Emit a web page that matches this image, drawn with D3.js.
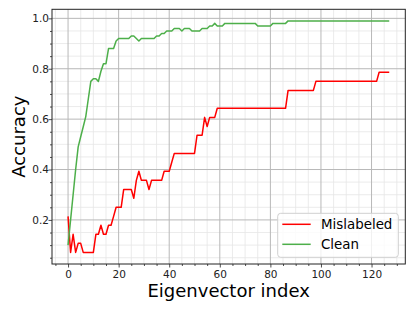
<!DOCTYPE html>
<html>
<head>
<meta charset="utf-8">
<script src="https://cdn.jsdelivr.net/npm/d3@7"></script>
<style>
    html, body { margin: 0; padding: 0; background: #fff; }
    svg { display: block; font-family: "DejaVu Sans", sans-serif; }
</style>
</head>
<body>
<svg id="chart"></svg>
<script>
// accuracy per eigenvector index
const mislabeled = [
    0.214, 0.071, 0.143, 0.071, 0.107, 0.107, 0.071, 0.071, 0.071, 0.071,
    0.071, 0.143, 0.143, 0.179, 0.143, 0.143, 0.179, 0.179, 0.214, 0.25,
    0.25, 0.25, 0.321, 0.321, 0.321, 0.321, 0.286, 0.357, 0.393, 0.357,
    0.357, 0.357, 0.321, 0.357, 0.357, 0.357, 0.357, 0.357, 0.393, 0.393,
    0.393, 0.429, 0.464, 0.464, 0.464, 0.464, 0.464, 0.464, 0.464, 0.464,
    0.464, 0.536, 0.536, 0.536, 0.607, 0.571, 0.607, 0.607, 0.607, 0.643,
    0.643, 0.643, 0.643, 0.643, 0.643, 0.643, 0.643, 0.643, 0.643, 0.643,
    0.643, 0.643, 0.643, 0.643, 0.643, 0.643, 0.643, 0.643, 0.643, 0.643,
    0.643, 0.643, 0.643, 0.643, 0.643, 0.643, 0.643, 0.714, 0.714, 0.714,
    0.714, 0.714, 0.714, 0.714, 0.714, 0.714, 0.714, 0.714, 0.75, 0.75,
    0.75, 0.75, 0.75, 0.75, 0.75, 0.75, 0.75, 0.75, 0.75, 0.75,
    0.75, 0.75, 0.75, 0.75, 0.75, 0.75, 0.75, 0.75, 0.75, 0.75,
    0.75, 0.75, 0.75, 0.786, 0.786, 0.786, 0.786, 0.786
];

const clean = [
    0.10, 0.20, 0.30, 0.40, 0.49, 0.53, 0.57, 0.61, 0.68, 0.75,
    0.76, 0.76, 0.75, 0.79, 0.82, 0.82, 0.88, 0.88, 0.88, 0.91,
    0.92, 0.92, 0.92, 0.92, 0.92, 0.93, 0.93, 0.92, 0.91, 0.92,
    0.92, 0.92, 0.92, 0.92, 0.92, 0.93, 0.93, 0.94, 0.94, 0.95,
    0.95, 0.95, 0.96, 0.96, 0.96, 0.95, 0.96, 0.96, 0.96, 0.95,
    0.95, 0.95, 0.95, 0.96, 0.96, 0.96, 0.97, 0.97, 0.98, 0.97,
    0.97, 0.97, 0.98, 0.98, 0.98, 0.98, 0.98, 0.98, 0.98, 0.98,
    0.98, 0.98, 0.98, 0.98, 0.98, 0.97, 0.97, 0.97, 0.97, 0.97,
    0.97, 0.98, 0.98, 0.98, 0.98, 0.98, 0.98, 0.99, 0.99, 0.99,
    0.99, 0.99, 0.99, 0.99, 0.99, 0.99, 0.99, 0.99, 0.99, 0.99,
    0.99, 0.99, 0.99, 0.99, 0.99, 0.99, 0.99, 0.99, 0.99, 0.99,
    0.99, 0.99, 0.99, 0.99, 0.99, 0.99, 0.99, 0.99, 0.99, 0.99,
    0.99, 0.99, 0.99, 0.99, 0.99, 0.99, 0.99, 0.99
];

const xTicks = [0, 20, 40, 60, 80, 100, 120];
const yTicks = [0.2, 0.4, 0.6, 0.8, 1.0];
const seriesNames = ["Mislabeled", "Clean"];
const seriesColors = ["#ff0000", "#4daf4a"];

const width = 415;
const height = 311;
const margin = { top: 9.3, right: 9.7, bottom: 47, left: 52 };
const innerW = width - margin.left - margin.right;
const innerH = height - margin.top - margin.bottom;

const series = [mislabeled, clean];
const n = mislabeled.length;

// matplotlib style 5% padding
const xPad = (n - 1) * 0.05;
const allVals = series.flat();
const yMin = d3.min(allVals), yMax = d3.max(allVals);
const yPad = (yMax - yMin) * 0.05;

const x = d3.scaleLinear()
    .domain([-xPad, n - 1 + xPad])
    .range([0, innerW]);

const y = d3.scaleLinear()
    .domain([yMin - yPad, yMax + yPad])
    .range([innerH, 0]);

const xMinor = d3.range(-5, 135, 5).filter(v => v % 20 !== 0);
const yMinor = d3.range(1, 21).map(v => v * 0.05).filter(v => Math.abs(v * 5 - Math.round(v * 5)) > 1e-6);

const svg = d3.select("#chart")
    .attr("width", width)
    .attr("height", height);

const g = svg.append("g")
    .attr("transform", `translate(${margin.left},${margin.top})`);

// minor grid
g.append("g")
    .selectAll("line.vx")
    .data(xMinor)
    .join("line")
    .attr("x1", d => x(d)).attr("x2", d => x(d))
    .attr("y1", 0).attr("y2", innerH)
    .attr("stroke", "#e6e6e6").attr("stroke-width", 0.8);

g.append("g")
    .selectAll("line.hy")
    .data(yMinor)
    .join("line")
    .attr("x1", 0).attr("x2", innerW)
    .attr("y1", d => y(d)).attr("y2", d => y(d))
    .attr("stroke", "#e6e6e6").attr("stroke-width", 0.8);

// major grid
g.append("g")
    .selectAll("line")
    .data(xTicks)
    .join("line")
    .attr("x1", d => x(d)).attr("x2", d => x(d))
    .attr("y1", 0).attr("y2", innerH)
    .attr("stroke", "#b8b8b8").attr("stroke-width", 1);

g.append("g")
    .selectAll("line")
    .data(yTicks)
    .join("line")
    .attr("x1", 0).attr("x2", innerW)
    .attr("y1", d => y(d)).attr("y2", d => y(d))
    .attr("stroke", "#b8b8b8").attr("stroke-width", 1);

// lines
const line = d3.line()
    .x((d, i) => x(i))
    .y(d => y(d));

g.append("g")
    .selectAll("path")
    .data(series)
    .join("path")
    .attr("fill", "none")
    .attr("stroke", (d, i) => seriesColors[i])
    .attr("stroke-width", 1.5)
    .attr("stroke-linejoin", "round")
    .attr("d", line);

// axes
const xAxis = g.append("g")
    .attr("transform", `translate(0,${innerH})`)
    .call(d3.axisBottom(x).tickValues(xTicks).tickSize(3.5).tickPadding(3).tickFormat(d3.format("d")));

g.append("g")
    .attr("transform", `translate(0,${innerH})`)
    .call(d3.axisBottom(x).tickValues(xMinor).tickSize(2).tickFormat(""))
    .select(".domain").remove();

const yAxis = g.append("g")
    .call(d3.axisLeft(y).tickValues(yTicks).tickSize(3.5).tickPadding(-0.5).tickFormat(d3.format(".1f")));

g.append("g")
    .call(d3.axisLeft(y).tickValues(yMinor).tickSize(2).tickFormat(""))
    .select(".domain").remove();

svg.selectAll(".tick text")
    .attr("font-family", "DejaVu Sans")
    .attr("font-size", 10.5)
    .attr("fill", "#222");

svg.selectAll(".tick line").attr("stroke", "#222").attr("stroke-width", 0.8);
xAxis.select(".domain").remove();
yAxis.select(".domain").remove();

// frame
g.append("rect")
    .attr("width", innerW)
    .attr("height", innerH)
    .attr("fill", "none")
    .attr("stroke", "#222")
    .attr("stroke-width", 1);

// axis titles
svg.append("text")
    .attr("x", margin.left + innerW / 2)
    .attr("y", 297)
    .attr("text-anchor", "middle")
    .attr("font-size", 18)
    .text("Eigenvector index");

svg.append("text")
    .attr("transform", `translate(25,${margin.top + innerH / 2}) rotate(-90)`)
    .attr("text-anchor", "middle")
    .attr("font-size", 18)
    .text("Accuracy");

// legend
const legend = svg.append("g")
    .attr("transform", "translate(277.7,213.3)");

legend.append("rect")
    .attr("width", 120.6)
    .attr("height", 44)
    .attr("rx", 3)
    .attr("fill", "#fff")
    .attr("fill-opacity", 0.8)
    .attr("stroke", "#d0d0d0");

const item = legend.selectAll("g.item")
    .data(seriesNames)
    .join("g")
    .attr("transform", (d, i) => `translate(0,${11 + i * 20})`);

item.append("line")
    .attr("x1", 4.6).attr("x2", 33)
    .attr("stroke", (d, i) => seriesColors[i])
    .attr("stroke-width", 1.5);

item.append("text")
    .attr("x", 43.3)
    .attr("dy", "0.36em")
    .attr("font-size", 13.4)
    .text(d => d);
</script>
</body>
</html>
